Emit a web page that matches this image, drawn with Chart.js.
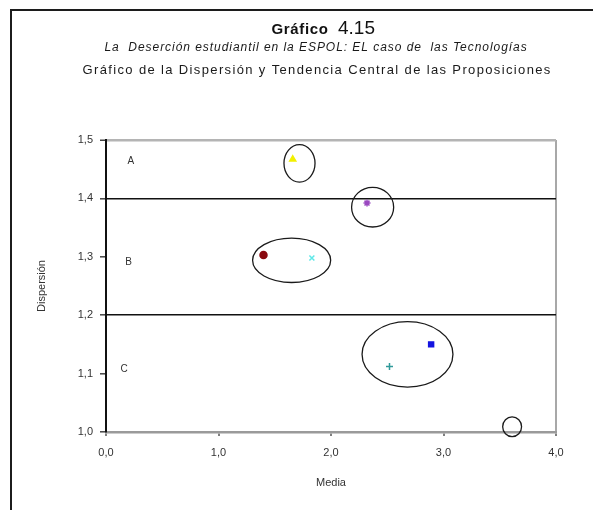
<!DOCTYPE html>
<html>
<head>
<meta charset="utf-8">
<script src="https://cdn.jsdelivr.net/npm/chart.js@4.4.1/dist/chart.umd.min.js"></script>
<style>
  html, body { margin: 0; padding: 0; background: #fff; }
  canvas { display: block; }
</style>
</head>
<body>
<canvas id="chart" width="593" height="510"></canvas>
<script>
// chart texts
const titleWord = "Gráfico";
const titleNumber = "4.15";
const subtitleItalic = "La  Deserción estudiantil en la ESPOL: EL caso de  las Tecnologías";
const subtitlePlain = "Gráfico de la Dispersión y Tendencia Central de las Proposiciones";
const xTitle = "Media";
const yTitle = "Dispersión";

// one entry per series (media, dispersión)
const seriesNames = ["Yellow", "Cyan", "Purple", "Maroon", "Teal", "Blue"];
const seriesX = [1.66, 1.83, 2.32, 1.40, 2.52, 2.89];
const seriesY = [1.467, 1.298, 1.392, 1.303, 1.112, 1.150];
const seriesColors = ["#f2f000", "#5fe8e8", "#9a48c0", "#8a0a10", "#309a9a", "#1414e0"];
const seriesMarkers = ["triangle", "crossRot", "star", "circle", "cross", "rect"];

// group ellipses: center and half-widths in data units
const ellipseCx = [1.72, 2.37, 1.65, 2.68, 3.61];
const ellipseCy = [1.460, 1.385, 1.294, 1.133, 1.009];
const ellipseRx = [0.138, 0.187, 0.347, 0.404, 0.084];
const ellipseRy = [0.032, 0.034, 0.038, 0.056, 0.017];

// zone labels
const zoneLabels = ["A", "B", "C"];
const zoneX = [0.22, 0.20, 0.16];
const zoneY = [1.463, 1.290, 1.107];

// axes
const xMin = 0, xMax = 4, xStep = 1;
const yMin = 1.0, yMax = 1.5, yStep = 0.1;
const yDividers = [1.2, 1.4];

const FONT = "'Liberation Sans', Arial, sans-serif";

const datasets = seriesNames.map((name, i) => ({
  label: name,
  data: [{ x: seriesX[i], y: seriesY[i] }],
  pointStyle: seriesMarkers[i],
  backgroundColor: seriesColors[i],
  borderColor: seriesColors[i],
  borderWidth: 1.5,
  pointRadius: 3.5,
}));

// draws text centered at cx, spread out so it takes roughly `width` px
function spreadText(ctx, text, cx, y, width) {
  ctx.letterSpacing = "0px";
  const w = ctx.measureText(text).width;
  const ls = (width - w) / text.length;
  ctx.letterSpacing = ls.toFixed(2) + "px";
  ctx.textAlign = "left";
  ctx.fillText(text, cx - width / 2, y);
  ctx.letterSpacing = "0px";
}

const decorations = {
  id: "decorations",
  afterDatasetsDraw(chart) {
    const ctx = chart.ctx;
    const xs = chart.scales.x, ys = chart.scales.y;
    ctx.save();
    // ellipses around the groups
    ctx.strokeStyle = "#1a1a1a";
    ctx.lineWidth = 1.3;
    ellipseCx.forEach((cx, i) => {
      const px = xs.getPixelForValue(cx);
      const py = ys.getPixelForValue(ellipseCy[i]);
      const rx = Math.abs(xs.getPixelForValue(cx + ellipseRx[i]) - px);
      const ry = Math.abs(ys.getPixelForValue(ellipseCy[i] + ellipseRy[i]) - py);
      ctx.beginPath();
      ctx.ellipse(px, py, rx, ry, 0, 0, Math.PI * 2);
      ctx.stroke();
    });
    // zone letters
    ctx.fillStyle = "#333";
    ctx.font = "10px " + FONT;
    ctx.textAlign = "center";
    ctx.textBaseline = "middle";
    zoneLabels.forEach((t, i) => {
      ctx.fillText(t, xs.getPixelForValue(zoneX[i]), ys.getPixelForValue(zoneY[i]));
    });
    ctx.restore();
  },
  afterDraw(chart) {
    const ctx = chart.ctx;
    ctx.save();
    // outer frame (top and left only)
    ctx.strokeStyle = "#1c1c1c";
    ctx.lineWidth = 2;
    ctx.beginPath();
    ctx.moveTo(593, 10);
    ctx.lineTo(11, 10);
    ctx.lineTo(11, 510);
    ctx.stroke();

    // title: bold word + larger number
    ctx.fillStyle = "#111";
    ctx.textBaseline = "alphabetic";
    ctx.font = "bold 15px " + FONT;
    spreadText(ctx, titleWord, 300, 34, 57);
    ctx.font = "19px " + FONT;
    ctx.textAlign = "left";
    ctx.fillText(titleNumber, 338, 34);

    ctx.fillStyle = "#1a1a1a";
    ctx.font = "italic 12px " + FONT;
    spreadText(ctx, subtitleItalic, 316, 51, 423);
    ctx.font = "13px " + FONT;
    spreadText(ctx, subtitlePlain, 317, 74, 469);
    ctx.restore();
  },
};

const fmt = (v) => v.toFixed(1).replace(".", ",");

new Chart(document.getElementById("chart"), {
  type: "scatter",
  data: { datasets },
  options: {
    responsive: false,
    animation: false,
    layout: { padding: { top: 140, left: 20, right: 37, bottom: 0 } },
    plugins: {
      legend: { display: false },
      tooltip: { enabled: false },
      title: { display: false },
    },
    scales: {
      x: {
        type: "linear",
        min: xMin,
        max: xMax,
        afterFit: (s) => { s.height = 78; },
        ticks: {
          stepSize: xStep,
          padding: 10,
          color: "#333",
          font: { family: FONT, size: 11 },
          callback: (v) => fmt(v),
        },
        grid: {
          color: (c) => (c.tick && c.tick.value === xMax ? "#a8a8a8" : "rgba(0,0,0,0)"),
          lineWidth: 2,
          tickLength: 4,
          tickColor: "#555",
          tickWidth: 1.5,
        },
        border: { color: "#9a9a9a", width: 2.5 },
        title: {
          display: true,
          text: xTitle,
          color: "#333",
          font: { family: FONT, size: 11 },
          padding: { top: 0, bottom: 20 },
        },
      },
      y: {
        type: "linear",
        min: yMin,
        max: yMax,
        afterFit: (s) => { s.width = 86; },
        ticks: {
          stepSize: yStep,
          padding: 7,
          color: "#333",
          font: { family: FONT, size: 11 },
          callback: (v) => fmt(v),
        },
        grid: {
          color: (c) => {
            if (!c.tick) return "rgba(0,0,0,0)";
            const v = Math.round(c.tick.value * 10) / 10;
            if (yDividers.includes(v)) return "#111";
            if (v === yMax) return "#b4b4b4";
            return "rgba(0,0,0,0)";
          },
          lineWidth: (c) => (c.tick && Math.round(c.tick.value * 10) / 10 === yMax ? 2.5 : 1.6),
          tickLength: 6,
          tickColor: "#444",
          tickWidth: 1.5,
        },
        border: { color: "#111", width: 2 },
        title: {
          display: true,
          text: yTitle,
          color: "#333",
          font: { family: FONT, size: 11 },
          padding: { top: 15, bottom: 0 },
        },
      },
    },
  },
  plugins: [decorations],
});
</script>
</body>
</html>
